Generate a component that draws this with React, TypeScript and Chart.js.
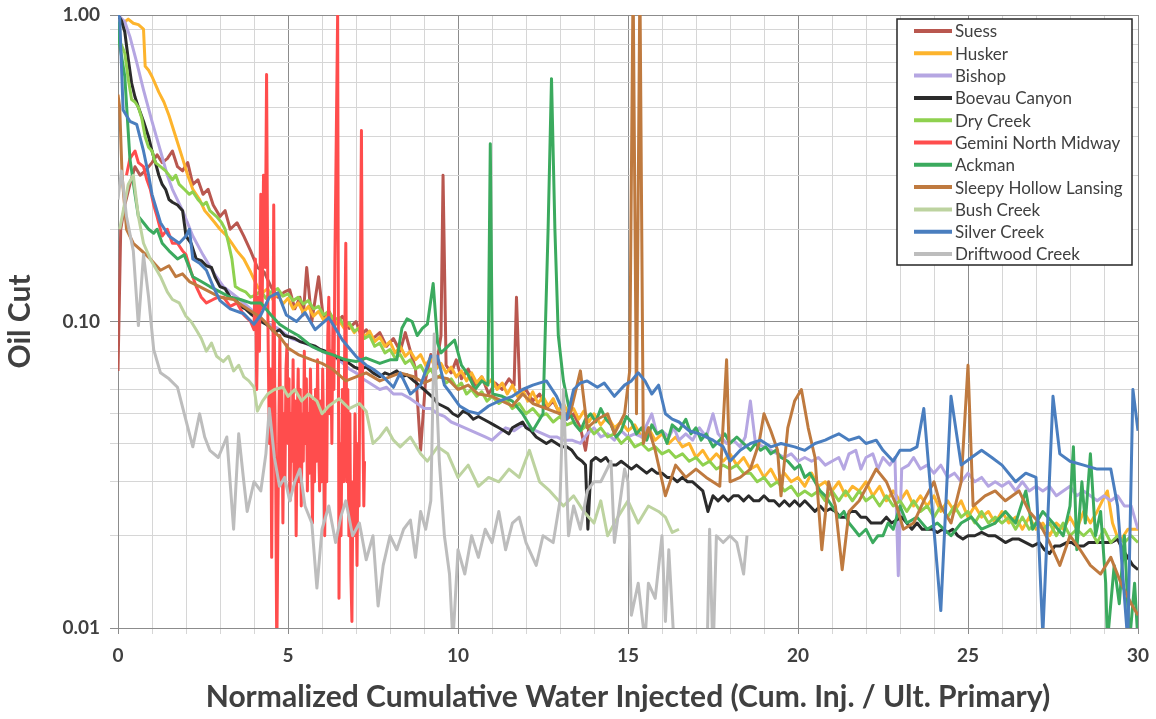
import React, { useEffect, useRef } from "react";
import { Chart, registerables } from "chart.js";

Chart.register(...registerables);

type Pt = [number, number];

const seriesNames = [
  "Suess",
  "Husker",
  "Bishop",
  "Boevau Canyon",
  "Dry Creek",
  "Gemini North Midway",
  "Ackman",
  "Sleepy Hollow Lansing",
  "Bush Creek",
  "Silver Creek",
  "Driftwood Creek",
];

const seriesColors = [
  "#B9574F",
  "#FDB42D",
  "#B5A6E2",
  "#2B2B2B",
  "#8FD14F",
  "#FF4D4D",
  "#3BAA5E",
  "#BF7A3F",
  "#BDD3A0",
  "#4A7EBF",
  "#BDBDBD",
];

const suess: Pt[] = [[0,0.069],[0.08,0.2],[0.2,0.24],[0.35,0.28],[0.5,0.32],[0.65,0.3],[0.8,0.31],[1.0,0.33],[1.15,0.35],[1.3,0.33],[1.45,0.34],[1.6,0.36],[1.75,0.32],[1.9,0.31],[2.05,0.33],[2.2,0.28],[2.35,0.29],[2.5,0.26],[2.65,0.27],[2.8,0.24],[3.0,0.22],[3.15,0.23],[3.3,0.2],[3.5,0.21],[3.7,0.19],[3.9,0.17],[4.1,0.15],[4.3,0.145],[4.5,0.13],[4.7,0.12],[4.9,0.125],[5.05,0.127],[5.2,0.11],[5.35,0.12],[5.45,0.105],[5.55,0.15],[5.7,0.1],[5.9,0.14],[6.05,0.1],[6.2,0.108],[6.4,0.098],[6.6,0.104],[6.8,0.095],[7.0,0.1],[7.15,0.09],[7.3,0.094],[7.5,0.088],[7.7,0.092],[7.9,0.083],[8.1,0.088],[8.3,0.08],[8.45,0.092],[8.6,0.08],[8.75,0.07],[8.9,0.038],[9.05,0.065],[9.2,0.078],[9.35,0.07],[9.5,0.09],[9.56,0.3],[9.65,0.072],[9.8,0.068],[9.95,0.075],[10.1,0.065],[10.3,0.07],[10.5,0.062],[10.7,0.066],[10.9,0.058],[11.1,0.063],[11.3,0.06],[11.5,0.065],[11.65,0.062],[11.72,0.12],[11.82,0.058],[12.0,0.06],[12.2,0.055],[12.4,0.058],[12.6,0.052],[12.8,0.055],[13.0,0.05],[13.2,0.048],[13.4,0.05],[13.6,0.045],[13.75,0.038],[13.85,0.045]];

const husker: Pt[] = [[0.2,0.95],[0.3,0.97],[0.45,0.94],[0.6,0.93],[0.75,0.9],[0.8,0.68],[0.9,0.66],[1.0,0.63],[1.2,0.56],[1.35,0.52],[1.5,0.47],[1.7,0.4],[1.9,0.34],[2.05,0.3],[2.2,0.27],[2.4,0.25],[2.55,0.23],[2.7,0.22],[2.85,0.21],[3.0,0.2],[3.2,0.19],[3.35,0.18],[3.5,0.17],[3.7,0.16],[3.9,0.145],[4.1,0.13],[4.25,0.124],[4.4,0.128],[4.55,0.118],[4.7,0.123],[4.85,0.114],[5.0,0.119],[5.15,0.11],[5.3,0.115],[5.45,0.107],[5.6,0.112],[5.75,0.104],[5.9,0.108],[6.05,0.101],[6.2,0.105],[6.35,0.097],[6.5,0.101],[6.65,0.095],[6.8,0.098],[6.95,0.092],[7.1,0.096],[7.25,0.089],[7.4,0.093],[7.55,0.086],[7.7,0.089],[7.85,0.083],[8.0,0.086],[8.15,0.079],[8.3,0.083],[8.45,0.077],[8.6,0.08],[8.75,0.075],[8.9,0.078],[9.05,0.072],[9.2,0.076],[9.35,0.07],[9.5,0.073],[9.65,0.068],[9.8,0.071],[9.95,0.066],[10.1,0.069],[10.25,0.064],[10.4,0.068],[10.55,0.063],[10.7,0.066],[10.85,0.062],[11.0,0.065],[11.15,0.06],[11.3,0.063],[11.45,0.058],[11.6,0.062],[11.75,0.057],[11.9,0.06],[12.05,0.055],[12.2,0.059],[12.35,0.054],[12.5,0.057],[12.65,0.053],[12.8,0.056],[12.95,0.051],[13.1,0.054],[13.25,0.05],[13.4,0.052],[13.55,0.048],[13.7,0.051],[13.85,0.047],[14.0,0.05],[14.2,0.046],[14.4,0.049],[14.6,0.045],[14.8,0.047],[15.0,0.044],[15.2,0.046],[15.4,0.042],[15.6,0.045],[15.8,0.041],[16.0,0.043],[16.2,0.04],[16.4,0.042],[16.6,0.039],[16.8,0.04],[17.0,0.036],[17.2,0.038],[17.4,0.035],[17.6,0.037],[17.8,0.035],[18.0,0.037],[18.2,0.034],[18.4,0.036],[18.6,0.033],[18.8,0.034],[19.0,0.031],[19.2,0.033],[19.4,0.03],[19.6,0.032],[19.8,0.03],[20.0,0.031],[20.2,0.029],[20.4,0.032],[20.6,0.029],[20.8,0.03],[21.0,0.028],[21.2,0.03],[21.4,0.027],[21.6,0.029],[21.8,0.028],[22.0,0.03],[22.2,0.027],[22.4,0.029],[22.6,0.026],[22.8,0.028],[23.0,0.026],[23.2,0.028],[23.4,0.025],[23.6,0.027],[23.8,0.025],[24.0,0.027],[24.2,0.024],[24.4,0.026],[24.6,0.024],[24.8,0.026],[25.0,0.023],[25.2,0.025],[25.4,0.023],[25.6,0.024],[25.8,0.022],[26.0,0.024],[26.2,0.022],[26.4,0.023],[26.6,0.021],[26.8,0.023],[27.0,0.021],[27.2,0.022],[27.4,0.02],[27.6,0.022],[27.8,0.021],[28.0,0.023],[28.2,0.021],[28.4,0.024],[28.6,0.022],[28.8,0.024],[28.95,0.026],[29.1,0.028],[29.25,0.022],[29.45,0.019],[29.7,0.021],[30,0.021]];

const bishop: Pt[] = [[0,1.0],[0.2,0.95],[0.35,0.85],[0.55,0.7],[0.75,0.57],[1.0,0.45],[1.25,0.36],[1.45,0.3],[1.6,0.27],[1.9,0.23],[2.2,0.19],[2.5,0.165],[2.8,0.145],[3.1,0.13],[3.5,0.12],[3.9,0.11],[4.3,0.1],[4.7,0.095],[5.1,0.088],[5.5,0.085],[5.8,0.082],[6.0,0.08],[6.3,0.077],[6.5,0.075],[6.8,0.07],[7.0,0.068],[7.2,0.065],[7.4,0.063],[7.7,0.06],[7.9,0.061],[8.1,0.058],[8.35,0.058],[8.6,0.056],[8.8,0.054],[9.0,0.052],[9.2,0.052],[9.4,0.05],[9.6,0.049],[9.8,0.047],[10.0,0.046],[10.2,0.045],[10.4,0.044],[10.6,0.043],[10.8,0.042],[11.0,0.041],[11.2,0.043],[11.4,0.045],[11.65,0.044],[11.9,0.046],[12.1,0.045],[12.3,0.044],[12.5,0.043],[12.7,0.042],[12.9,0.042],[13.1,0.041],[13.35,0.041],[13.6,0.04],[13.8,0.043],[14.0,0.045],[14.2,0.042],[14.4,0.043],[14.6,0.041],[14.8,0.044],[15.0,0.042],[15.2,0.043],[15.4,0.042],[15.55,0.046],[15.7,0.05],[15.85,0.043],[16.0,0.044],[16.2,0.042],[16.35,0.045],[16.5,0.041],[16.7,0.043],[16.9,0.041],[17.1,0.045],[17.3,0.042],[17.5,0.05],[17.65,0.043],[17.9,0.04],[18.1,0.041],[18.3,0.039],[18.45,0.042],[18.6,0.055],[18.75,0.04],[19.0,0.039],[19.2,0.038],[19.4,0.037],[19.6,0.036],[19.8,0.037],[20.0,0.035],[20.2,0.036],[20.4,0.035],[20.6,0.036],[20.8,0.034],[21.0,0.035],[21.2,0.036],[21.35,0.033],[21.5,0.037],[21.7,0.038],[21.85,0.033],[22.0,0.036],[22.2,0.037],[22.35,0.033],[22.5,0.036],[22.7,0.034],[22.85,0.036],[22.95,0.0148],[23.05,0.033],[23.25,0.034],[23.4,0.036],[23.6,0.033],[23.8,0.034],[24.0,0.032],[24.2,0.034],[24.4,0.031],[24.6,0.032],[24.8,0.03],[25.0,0.032],[25.2,0.03],[25.4,0.031],[25.6,0.029],[25.8,0.03],[26.0,0.029],[26.2,0.03],[26.4,0.028],[26.6,0.03],[26.8,0.028],[27.0,0.029],[27.2,0.028],[27.4,0.029],[27.6,0.027],[27.8,0.028],[28.0,0.029],[28.2,0.027],[28.4,0.028],[28.6,0.027],[28.8,0.026],[29.0,0.027],[29.2,0.026],[29.4,0.027],[29.6,0.025],[29.8,0.025],[30,0.021]];

const boevau: Pt[] = [[0,1.0],[0.1,0.96],[0.2,0.88],[0.3,0.72],[0.4,0.6],[0.5,0.54],[0.6,0.5],[0.75,0.45],[0.9,0.4],[1.0,0.36],[1.1,0.33],[1.2,0.3],[1.3,0.28],[1.4,0.27],[1.5,0.25],[1.6,0.245],[1.75,0.24],[1.9,0.23],[2.0,0.19],[2.15,0.18],[2.3,0.16],[2.45,0.158],[2.6,0.152],[2.75,0.15],[2.85,0.14],[3.0,0.13],[3.15,0.128],[3.3,0.12],[3.45,0.118],[3.6,0.112],[3.75,0.11],[3.9,0.106],[4.05,0.103],[4.2,0.1],[4.35,0.098],[4.5,0.095],[4.6,0.092],[4.75,0.094],[4.9,0.09],[5.05,0.089],[5.2,0.088],[5.35,0.086],[5.5,0.085],[5.65,0.084],[5.8,0.083],[5.95,0.081],[6.1,0.08],[6.3,0.079],[6.45,0.076],[6.6,0.075],[6.8,0.073],[6.95,0.071],[7.1,0.07],[7.3,0.071],[7.5,0.068],[7.7,0.066],[7.85,0.068],[8.0,0.067],[8.2,0.069],[8.35,0.066],[8.5,0.067],[8.7,0.064],[8.85,0.062],[9.0,0.06],[9.15,0.058],[9.3,0.056],[9.4,0.054],[9.55,0.053],[9.7,0.052],[9.85,0.05],[10.0,0.049],[10.15,0.051],[10.3,0.05],[10.45,0.048],[10.6,0.049],[10.75,0.048],[10.9,0.047],[11.05,0.046],[11.2,0.045],[11.35,0.044],[11.5,0.043],[11.6,0.045],[11.75,0.046],[11.9,0.047],[12.0,0.045],[12.15,0.044],[12.3,0.042],[12.45,0.041],[12.6,0.04],[12.75,0.041],[12.9,0.04],[13.05,0.039],[13.2,0.039],[13.35,0.038],[13.5,0.036],[13.65,0.035],[13.75,0.034],[13.82,0.021],[13.92,0.035],[14.05,0.036],[14.2,0.035],[14.35,0.036],[14.5,0.034],[14.65,0.034],[14.8,0.035],[14.95,0.034],[15.1,0.033],[15.25,0.034],[15.4,0.033],[15.55,0.032],[15.7,0.033],[15.85,0.032],[16.0,0.032],[16.15,0.031],[16.3,0.031],[16.45,0.03],[16.6,0.031],[16.75,0.03],[16.9,0.03],[17.05,0.029],[17.2,0.028],[17.35,0.024],[17.5,0.027],[17.65,0.026],[17.8,0.027],[17.95,0.026],[18.1,0.027],[18.25,0.027],[18.4,0.026],[18.55,0.027],[18.7,0.026],[18.85,0.026],[19.0,0.027],[19.15,0.026],[19.3,0.026],[19.45,0.025],[19.6,0.026],[19.75,0.025],[19.9,0.026],[20.05,0.025],[20.2,0.026],[20.35,0.025],[20.5,0.024],[20.65,0.025],[20.8,0.024],[20.95,0.0245],[21.1,0.024],[21.25,0.023],[21.4,0.023],[21.55,0.024],[21.7,0.024],[21.85,0.023],[22.0,0.023],[22.15,0.022],[22.3,0.022],[22.45,0.022],[22.6,0.023],[22.75,0.022],[22.9,0.0225],[23.05,0.023],[23.2,0.022],[23.35,0.021],[23.5,0.022],[23.65,0.021],[23.8,0.021],[23.95,0.021],[24.1,0.0205],[24.25,0.021],[24.4,0.0205],[24.55,0.021],[24.7,0.02],[24.85,0.0195],[25.0,0.02],[25.2,0.02],[25.4,0.0205],[25.6,0.02],[25.8,0.02],[25.95,0.0195],[26.1,0.019],[26.3,0.0195],[26.5,0.0195],[26.7,0.019],[26.9,0.0185],[27.1,0.019],[27.25,0.018],[27.4,0.0175],[27.55,0.0185],[27.7,0.0185],[27.9,0.019],[28.05,0.019],[28.2,0.0185],[28.4,0.0185],[28.55,0.019],[28.7,0.019],[28.9,0.019],[29.05,0.019],[29.2,0.019],[29.4,0.0195],[29.55,0.018],[29.7,0.017],[29.85,0.016],[30,0.0155]];

const dryCreek: Pt[] = [[0,0.82],[0.1,0.8],[0.2,0.75],[0.3,0.62],[0.4,0.53],[0.5,0.52],[0.6,0.5],[0.7,0.46],[0.8,0.4],[0.9,0.37],[1.0,0.36],[1.1,0.33],[1.25,0.32],[1.4,0.31],[1.5,0.3],[1.6,0.29],[1.7,0.3],[1.8,0.28],[1.95,0.27],[2.1,0.26],[2.2,0.265],[2.35,0.25],[2.5,0.24],[2.6,0.245],[2.7,0.23],[2.8,0.225],[2.9,0.22],[3.05,0.21],[3.15,0.2],[3.25,0.18],[3.35,0.16],[3.45,0.13],[3.6,0.127],[3.75,0.125],[3.9,0.12],[4.05,0.122],[4.2,0.126],[4.35,0.119],[4.5,0.125],[4.7,0.128],[4.85,0.121],[5.0,0.123],[5.15,0.117],[5.3,0.12],[5.45,0.114],[5.6,0.117],[5.75,0.11],[5.9,0.112],[6.05,0.105],[6.2,0.108],[6.35,0.101],[6.5,0.103],[6.65,0.097],[6.8,0.099],[6.95,0.093],[7.1,0.095],[7.25,0.088],[7.4,0.09],[7.55,0.083],[7.7,0.085],[7.85,0.079],[8.0,0.081],[8.15,0.076],[8.3,0.078],[8.45,0.073],[8.6,0.075],[8.75,0.07],[8.9,0.072],[9.05,0.067],[9.2,0.07],[9.35,0.065],[9.5,0.067],[9.65,0.063],[9.8,0.065],[9.95,0.061],[10.1,0.063],[10.25,0.058],[10.4,0.06],[10.55,0.057],[10.7,0.059],[10.85,0.055],[11.0,0.057],[11.2,0.054],[11.4,0.056],[11.6,0.052],[11.8,0.054],[12.0,0.05],[12.2,0.052],[12.4,0.049],[12.6,0.05],[12.8,0.047],[13.0,0.049],[13.2,0.046],[13.4,0.047],[13.6,0.044],[13.8,0.046],[14.0,0.043],[14.2,0.045],[14.4,0.042],[14.6,0.043],[14.8,0.04],[15.0,0.042],[15.2,0.039],[15.4,0.04],[15.6,0.038],[15.8,0.039],[16.0,0.037],[16.2,0.038],[16.4,0.036],[16.6,0.037],[16.8,0.035],[17.0,0.036],[17.2,0.034],[17.4,0.035],[17.6,0.033],[17.8,0.034],[18.0,0.033],[18.2,0.034],[18.4,0.032],[18.6,0.032],[18.8,0.03],[19.0,0.031],[19.2,0.029],[19.4,0.03],[19.6,0.028],[19.8,0.029],[20.0,0.027],[20.2,0.028],[20.4,0.027],[20.6,0.028],[20.8,0.026],[21.0,0.028],[21.2,0.026],[21.4,0.028],[21.6,0.026],[21.8,0.028],[22.0,0.026],[22.2,0.027],[22.4,0.025],[22.6,0.027],[22.8,0.025],[23.0,0.026],[23.2,0.024],[23.4,0.026],[23.6,0.024],[23.8,0.025],[24.0,0.023],[24.2,0.025],[24.4,0.023],[24.6,0.025],[24.8,0.023],[25.0,0.024],[25.2,0.022],[25.4,0.024],[25.6,0.022],[25.8,0.023],[26.0,0.022],[26.2,0.023],[26.4,0.021],[26.6,0.023],[26.8,0.021],[27.0,0.022],[27.2,0.021],[27.4,0.022],[27.6,0.02],[27.8,0.022],[28.0,0.02],[28.2,0.021],[28.4,0.02],[28.6,0.021],[28.8,0.019],[29.0,0.021],[29.2,0.019],[29.4,0.02],[29.6,0.019],[29.8,0.02],[30,0.019]];

const gemini: Pt[] = [[0.25,0.3],[0.35,0.34],[0.5,0.36],[0.6,0.33],[0.75,0.32],[0.85,0.29],[0.95,0.27],[1.05,0.24],[1.15,0.22],[1.3,0.19],[1.45,0.2],[1.6,0.18],[1.75,0.18],[1.9,0.17],[2.0,0.165],[2.15,0.145],[2.3,0.13],[2.45,0.12],[2.6,0.115],[2.8,0.118],[2.95,0.12],[3.1,0.12],[3.3,0.112],[3.5,0.115],[3.7,0.105],[3.9,0.1],[4.0,0.094],[4.04,0.16],[4.08,0.06],[4.12,0.12],[4.16,0.08],[4.2,0.26],[4.24,0.11],[4.28,0.3],[4.33,0.15],[4.37,0.64],[4.41,0.1],[4.45,0.04],[4.49,0.07],[4.52,0.017],[4.55,0.05],[4.58,0.24],[4.61,0.06],[4.64,0.03],[4.67,0.008],[4.7,0.02],[4.73,0.045],[4.76,0.09],[4.79,0.03],[4.82,0.06],[4.85,0.022],[4.88,0.05],[4.91,0.03],[4.94,0.07],[4.97,0.084],[5.0,0.04],[5.03,0.065],[5.06,0.026],[5.09,0.05],[5.12,0.035],[5.15,0.075],[5.18,0.03],[5.21,0.055],[5.24,0.02],[5.27,0.045],[5.3,0.07],[5.33,0.03],[5.36,0.06],[5.39,0.025],[5.42,0.05],[5.45,0.035],[5.48,0.08],[5.51,0.04],[5.54,0.065],[5.57,0.028],[5.6,0.05],[5.63,0.032],[5.66,0.07],[5.69,0.04],[5.72,0.022],[5.75,0.055],[5.78,0.03],[5.81,0.06],[5.84,0.035],[5.87,0.075],[5.9,0.04],[5.93,0.028],[5.96,0.055],[5.99,0.03],[6.02,0.07],[6.05,0.04],[6.08,0.02],[6.11,0.05],[6.14,0.03],[6.17,0.09],[6.2,0.12],[6.23,0.05],[6.26,0.08],[6.29,0.04],[6.32,0.1],[6.35,0.06],[6.38,0.16],[6.42,0.4],[6.46,1.0],[6.5,0.0125],[6.53,0.04],[6.56,0.02],[6.6,0.06],[6.64,0.03],[6.67,0.09],[6.7,0.18],[6.73,0.03],[6.76,0.06],[6.79,0.02],[6.82,0.05],[6.85,0.015],[6.88,0.0105],[6.91,0.03],[6.94,0.02],[6.97,0.05],[7.0,0.03],[7.03,0.016],[7.06,0.04],[7.09,0.025],[7.12,0.1],[7.16,0.42],[7.2,0.05],[7.23,0.025],[7.25,0.035]];

const ackman: Pt[] = [[0,0.95],[0.05,0.8],[0.2,0.63],[0.35,0.34],[0.5,0.26],[0.6,0.22],[0.75,0.21],[0.9,0.2],[1.05,0.194],[1.15,0.2],[1.3,0.18],[1.5,0.17],[1.75,0.16],[1.95,0.165],[2.2,0.14],[2.45,0.135],[2.7,0.13],[3.0,0.125],[3.3,0.12],[3.6,0.118],[3.9,0.115],[4.2,0.115],[4.5,0.105],[4.75,0.098],[5.0,0.094],[5.3,0.09],[5.7,0.083],[6.0,0.08],[6.3,0.078],[6.7,0.075],[7.0,0.074],[7.3,0.076],[7.7,0.073],[8.0,0.075],[8.2,0.075],[8.35,0.095],[8.5,0.102],[8.65,0.1],[8.8,0.09],[8.95,0.095],[9.1,0.098],[9.27,0.133],[9.4,0.085],[9.5,0.079],[9.7,0.083],[9.9,0.087],[10.1,0.072],[10.3,0.067],[10.5,0.06],[10.7,0.064],[10.88,0.062],[10.95,0.38],[11.02,0.058],[11.3,0.057],[11.6,0.055],[11.9,0.05],[12.2,0.044],[12.5,0.05],[12.65,0.2],[12.75,0.62],[12.85,0.2],[12.95,0.09],[13.1,0.064],[13.3,0.05],[13.45,0.046],[13.6,0.044],[13.75,0.048],[13.9,0.05],[14.05,0.047],[14.2,0.052],[14.35,0.048],[14.5,0.046],[14.65,0.042],[14.8,0.044],[14.95,0.049],[15.1,0.047],[15.25,0.043],[15.4,0.045],[15.55,0.041],[15.7,0.046],[15.85,0.043],[16.0,0.044],[16.15,0.04],[16.3,0.046],[16.5,0.044],[16.7,0.048],[16.85,0.043],[17.0,0.045],[17.15,0.041],[17.3,0.043],[17.5,0.039],[17.7,0.041],[17.85,0.043],[18.0,0.04],[18.2,0.042],[18.4,0.04],[18.6,0.038],[18.75,0.04],[18.9,0.038],[19.05,0.039],[19.2,0.037],[19.35,0.038],[19.5,0.036],[19.7,0.035],[19.9,0.033],[20.05,0.034],[20.2,0.031],[20.35,0.032],[20.5,0.03],[20.65,0.028],[20.8,0.027],[21.0,0.025],[21.2,0.023],[21.35,0.024],[21.5,0.022],[21.65,0.021],[21.8,0.02],[22.0,0.021],[22.2,0.019],[22.35,0.02],[22.5,0.02],[22.65,0.022],[22.8,0.021],[23.0,0.025],[23.2,0.022],[23.5,0.023],[23.8,0.021],[24.1,0.022],[24.5,0.02],[24.8,0.022],[25.1,0.023],[25.4,0.021],[25.8,0.022],[26.1,0.024],[26.4,0.022],[26.7,0.028],[26.9,0.021],[27.2,0.024],[27.5,0.022],[27.8,0.02],[28.0,0.025],[28.1,0.039],[28.2,0.018],[28.35,0.03],[28.45,0.022],[28.6,0.037],[28.75,0.02],[28.9,0.024],[29.05,0.014],[29.1,0.009],[29.3,0.016],[29.45,0.012],[29.6,0.02],[29.75,0.009],[29.9,0.014],[30,0.009]];

const sleepyHollow: Pt[] = [[0,0.55],[0.05,0.5],[0.12,0.3],[0.25,0.2],[0.45,0.18],[0.7,0.17],[0.95,0.16],[1.25,0.147],[1.5,0.152],[1.7,0.14],[1.9,0.143],[2.1,0.135],[2.4,0.13],[2.7,0.125],[3.0,0.12],[3.4,0.118],[3.8,0.11],[4.2,0.103],[4.5,0.095],[4.8,0.088],[5.0,0.082],[5.3,0.078],[5.7,0.075],[6.0,0.073],[6.3,0.07],[6.7,0.064],[7.0,0.066],[7.3,0.068],[7.7,0.064],[8.0,0.066],[8.3,0.068],[8.7,0.066],[9.0,0.063],[9.4,0.066],[9.7,0.065],[10.0,0.06],[10.3,0.062],[10.6,0.058],[11.0,0.057],[11.3,0.055],[11.6,0.053],[11.9,0.058],[12.2,0.054],[12.6,0.052],[13.0,0.05],[13.3,0.05],[13.6,0.069],[13.8,0.045],[14.1,0.048],[14.4,0.05],[14.6,0.043],[14.9,0.05],[15.05,0.069],[15.15,1.3],[15.25,0.05],[15.35,1.3],[15.45,0.04],[15.6,0.045],[15.8,0.038],[16.1,0.027],[16.4,0.034],[16.7,0.031],[17.0,0.033],[17.3,0.031],[17.7,0.029],[17.9,0.075],[18.0,0.03],[18.3,0.031],[18.6,0.033],[18.85,0.04],[19.0,0.05],[19.2,0.044],[19.4,0.038],[19.5,0.027],[19.7,0.045],[19.9,0.055],[20.1,0.06],[20.3,0.045],[20.5,0.036],[20.7,0.018],[20.9,0.03],[21.1,0.025],[21.3,0.0155],[21.5,0.024],[21.8,0.026],[22.1,0.03],[22.3,0.033],[22.6,0.03],[22.9,0.025],[23.1,0.021],[23.4,0.022],[23.7,0.026],[24.0,0.03],[24.2,0.025],[24.5,0.022],[24.8,0.03],[25.0,0.072],[25.15,0.025],[25.5,0.027],[25.8,0.028],[26.1,0.026],[26.5,0.028],[26.8,0.024],[27.1,0.022],[27.4,0.019],[27.7,0.016],[28.0,0.02],[28.3,0.018],[28.6,0.016],[28.9,0.015],[29.2,0.017],[29.5,0.014],[29.8,0.012],[30,0.011]];

const bushCreek: Pt[] = [[0.05,0.2],[0.3,0.28],[0.45,0.3],[0.6,0.22],[0.75,0.18],[0.95,0.16],[1.25,0.14],[1.45,0.125],[1.6,0.118],[1.8,0.115],[2.0,0.104],[2.15,0.1],[2.3,0.094],[2.45,0.088],[2.6,0.08],[2.75,0.085],[2.9,0.077],[3.1,0.074],[3.25,0.077],[3.4,0.069],[3.55,0.072],[3.7,0.066],[3.85,0.064],[4.0,0.061],[4.1,0.051],[4.25,0.055],[4.4,0.058],[4.6,0.06],[4.85,0.061],[5.0,0.057],[5.2,0.06],[5.4,0.055],[5.6,0.058],[5.85,0.055],[6.0,0.05],[6.2,0.053],[6.5,0.056],[6.8,0.052],[7.1,0.054],[7.3,0.051],[7.5,0.04],[7.7,0.042],[7.9,0.045],[8.1,0.041],[8.3,0.039],[8.6,0.042],[8.9,0.037],[9.1,0.035],[9.4,0.039],[9.7,0.037],[10.0,0.031],[10.3,0.034],[10.6,0.029],[10.9,0.031],[11.2,0.03],[11.5,0.033],[11.8,0.031],[12.1,0.038],[12.4,0.03],[12.7,0.028],[13.1,0.025],[13.4,0.027],[13.7,0.024],[14.0,0.022],[14.2,0.026],[14.4,0.02],[14.7,0.023],[15.0,0.026],[15.3,0.022],[15.6,0.025],[15.9,0.024],[16.1,0.023],[16.3,0.0205],[16.5,0.021]];

const silverCreek: Pt[] = [[0,1.0],[0.05,0.98],[0.15,0.49],[0.35,0.45],[0.55,0.44],[0.75,0.36],[0.9,0.3],[1.0,0.26],[1.25,0.21],[1.5,0.19],[1.8,0.18],[2.0,0.19],[2.1,0.2],[2.2,0.16],[2.4,0.155],[2.6,0.147],[2.8,0.13],[3.0,0.117],[3.3,0.11],[3.7,0.106],[4.0,0.098],[4.2,0.105],[4.45,0.12],[4.7,0.124],[4.95,0.105],[5.25,0.1],[5.5,0.107],[5.8,0.094],[6.2,0.103],[6.6,0.087],[7.0,0.077],[7.3,0.072],[7.5,0.07],[7.8,0.066],[8.1,0.061],[8.3,0.068],[8.6,0.058],[8.9,0.062],[9.2,0.077],[9.4,0.077],[9.6,0.062],[9.8,0.058],[10.05,0.053],[10.3,0.051],[10.6,0.05],[10.9,0.053],[11.2,0.055],[11.6,0.057],[11.9,0.06],[12.2,0.062],[12.6,0.064],[12.9,0.057],[13.2,0.048],[13.4,0.06],[13.6,0.063],[13.8,0.064],[14.1,0.061],[14.3,0.063],[14.6,0.057],[14.9,0.062],[15.1,0.064],[15.3,0.068],[15.5,0.064],[15.7,0.058],[15.9,0.062],[16.1,0.05],[16.3,0.048],[16.5,0.047],[16.8,0.044],[17.1,0.043],[17.5,0.041],[17.8,0.039],[18.0,0.035],[18.3,0.038],[18.6,0.04],[18.9,0.041],[19.2,0.039],[19.5,0.04],[19.9,0.039],[20.2,0.038],[20.5,0.04],[20.8,0.041],[21.0,0.042],[21.2,0.043],[21.5,0.041],[21.8,0.042],[22.0,0.04],[22.3,0.041],[22.5,0.038],[22.8,0.035],[23.0,0.038],[23.3,0.038],[23.5,0.039],[23.7,0.052],[24.2,0.0114],[24.5,0.057],[24.8,0.034],[25.1,0.036],[25.4,0.038],[25.7,0.036],[26.0,0.034],[26.4,0.03],[26.7,0.032],[27.0,0.031],[27.2,0.0095],[27.5,0.057],[27.7,0.037],[28.0,0.035],[28.4,0.034],[28.8,0.033],[29.2,0.033],[29.4,0.025],[29.7,0.009],[29.85,0.06],[30,0.044]];

const driftwood: Pt[] = [[0,0.25],[0.1,0.31],[0.25,0.22],[0.45,0.17],[0.6,0.097],[0.75,0.165],[0.9,0.12],[1.05,0.081],[1.25,0.068],[1.5,0.065],[1.75,0.061],[1.95,0.05],[2.2,0.039],[2.4,0.05],[2.55,0.042],[2.7,0.038],[2.95,0.036],[3.2,0.042],[3.4,0.021],[3.55,0.043],[3.7,0.03],[3.8,0.024],[4.0,0.03],[4.2,0.028],[4.35,0.037],[4.45,0.052],[4.6,0.036],[4.75,0.029],[4.9,0.031],[5.05,0.026],[5.2,0.03],[5.35,0.033],[5.5,0.025],[5.7,0.022],[5.85,0.0135],[6.0,0.021],[6.2,0.025],[6.4,0.019],[6.55,0.023],[6.7,0.026],[6.9,0.02],[7.1,0.022],[7.3,0.0167],[7.5,0.02],[7.65,0.0118],[7.8,0.016],[8.0,0.02],[8.2,0.018],[8.4,0.021],[8.6,0.0225],[8.75,0.017],[8.9,0.024],[9.05,0.021],[9.2,0.026],[9.3,0.091],[9.45,0.035],[9.6,0.02],[9.75,0.015],[9.85,0.009],[10.0,0.018],[10.2,0.015],[10.4,0.02],[10.6,0.017],[10.8,0.021],[11.0,0.019],[11.2,0.024],[11.4,0.018],[11.6,0.022],[11.8,0.023],[12.0,0.019],[12.3,0.016],[12.5,0.02],[12.8,0.019],[13.0,0.026],[13.1,0.06],[13.25,0.02],[13.4,0.025],[13.6,0.021],[13.8,0.028],[14.0,0.03],[14.2,0.03],[14.5,0.035],[14.6,0.019],[14.9,0.033],[15.0,0.03],[15.1,0.011],[15.3,0.014],[15.5,0.009],[15.6,0.014],[15.8,0.0125],[16.0,0.02],[16.1,0.0105],[16.2,0.018],[16.35,0.009],[16.5,0.006],[17.3,0.006],[17.4,0.021],[17.5,0.008],[17.6,0.02],[17.8,0.019],[18.0,0.02],[18.2,0.019],[18.4,0.015],[18.5,0.02]];

const seriesData: Pt[][] = [suess, husker, bishop, boevau, dryCreek, gemini, ackman, sleepyHollow, bushCreek, silverCreek, driftwood];

const xLabeledValues = [0, 5, 10, 15, 20, 25, 30];
const xTickLabels = ["0", "5", "10", "15", "20", "25", "30"];
const yLabeledValues = [0.01, 0.1, 1];
const yTickLabels = ["0.01", "0.10", "1.00"];
const yGridValues = [0.01,0.02,0.03,0.04,0.05,0.06,0.07,0.08,0.09,0.1,0.2,0.3,0.4,0.5,0.6,0.7,0.8,0.9,1];

const xTitle = "Normalized Cumulative Water Injected (Cum. Inj. / Ult. Primary)";
const yTitle = "Oil Cut";

const TEXT = "#404040";
const MAJOR = "#8c8c8c";
const MINOR = "#d6d6d6";

const isDecade = (v: number) => Math.abs(Math.log10(v) - Math.round(Math.log10(v))) < 1e-6;

const legendBoxPlugin = {
  id: "legendBox",
  afterDraw(chart: any) {
    const ctx = chart.ctx as CanvasRenderingContext2D;
    const x0 = 897, y0 = 19, w = 235, h = 246;
    ctx.save();
    ctx.fillStyle = "#ffffff";
    ctx.fillRect(x0, y0, w, h);
    ctx.strokeStyle = "#262626";
    ctx.lineWidth = 1.5;
    ctx.strokeRect(x0, y0, w, h);
    chart.data.datasets.forEach((ds: any, i: number) => {
      const y = 31 + i * 22.3;
      ctx.strokeStyle = ds.borderColor;
      ctx.lineWidth = 4;
      ctx.beginPath();
      ctx.moveTo(914, y);
      ctx.lineTo(952, y);
      ctx.stroke();
      ctx.fillStyle = TEXT;
      ctx.font = "17px Lato";
      ctx.textBaseline = "middle";
      ctx.textAlign = "left";
      ctx.fillText(ds.label, 955, y + 1);
    });
    ctx.restore();
  },
};

export default function App() {
  const canvasRef = useRef<HTMLCanvasElement | null>(null);

  useEffect(() => {
    if (!canvasRef.current) return;
    Chart.defaults.font.family = "Lato, 'Open Sans', sans-serif";
    const n = seriesData.length;
    const chart = new Chart(canvasRef.current, {
      type: "line",
      data: {
        datasets: seriesData.map((pts, i) => ({
          label: seriesNames[i],
          data: pts.map(([x, y]) => ({ x, y })),
          borderColor: seriesColors[i],
          backgroundColor: seriesColors[i],
          borderWidth: 3,
          pointRadius: 0,
          tension: 0,
          fill: false,
          order: n - i,
          clip: 0,
          borderJoinStyle: "round",
        })),
      },
      options: {
        responsive: false,
        animation: false,
        layout: { padding: { left: 0, right: 18, top: 15, bottom: 0 } },
        plugins: { legend: { display: false }, tooltip: { enabled: false } },
        scales: {
          x: {
            type: "linear",
            min: 0,
            max: 30,
            afterFit: (axis: any) => {
              axis.height = 91;
              axis.paddingLeft = 0;
              axis.paddingRight = 0;
            },
            ticks: {
              stepSize: 1,
              autoSkip: false,
              maxRotation: 0,
              padding: 10,
              color: TEXT,
              font: { size: 19, weight: "bold" },
              callback: (v: any) => {
                const idx = xLabeledValues.indexOf(Number(v));
                return idx >= 0 ? xTickLabels[idx] : "";
              },
            },
            grid: {
              color: (c: any) => (c.tick && Number(c.tick.value) % 5 === 0 ? MAJOR : MINOR),
              tickLength: 6,
            },
            border: { color: MAJOR },
            title: {
              display: true,
              text: xTitle,
              color: TEXT,
              font: { size: 30, weight: "bold" },
              padding: { top: 0, bottom: 4 },
            },
          },
          y: {
            type: "logarithmic",
            min: 0.01,
            max: 1,
            afterFit: (axis: any) => {
              axis.width = 118;
              axis.paddingTop = 0;
              axis.paddingBottom = 0;
            },
            afterBuildTicks: (axis: any) => {
              axis.ticks = yGridValues.map((v) => ({ value: v, major: isDecade(v) }));
            },
            ticks: {
              autoSkip: false,
              padding: 10,
              color: TEXT,
              font: { size: 19, weight: "bold" },
              callback: (v: any) => {
                const idx = yLabeledValues.findIndex((d) => Math.abs(d - Number(v)) < 1e-9);
                return idx >= 0 ? yTickLabels[idx] : "";
              },
            },
            grid: {
              color: (c: any) => (c.tick && isDecade(Number(c.tick.value)) ? MAJOR : MINOR),
              tickLength: 8,
            },
            border: { color: MAJOR },
            title: {
              display: true,
              text: yTitle,
              color: TEXT,
              font: { size: 30, weight: "bold" },
              padding: { top: 2, bottom: 0 },
            },
          },
        },
      },
      plugins: [legendBoxPlugin],
    } as any);
    return () => chart.destroy();
  }, []);

  return (
    <div style={{ position: "fixed", left: 0, top: 0, width: 1156, height: 719, background: "#ffffff" }}>
      <canvas ref={canvasRef} width={1156} height={719} style={{ display: "block" }} />
    </div>
  );
}
